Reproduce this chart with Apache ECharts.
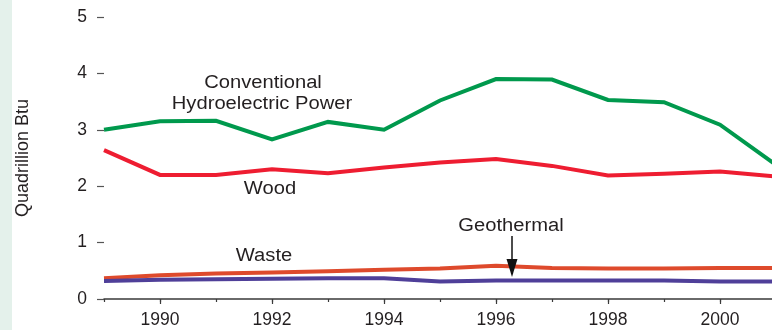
<!DOCTYPE html>
<html><head><meta charset="utf-8">
<script src="https://cdn.jsdelivr.net/npm/echarts@6/dist/echarts.min.js"></script>
<style>html,body{margin:0;padding:0;overflow:hidden;background:#fff;width:772px;height:330px}#c{width:800px;height:330px}</style>
</head><body><div id="c"></div><script>
const years = ['1989','1990','1991','1992','1993','1994','1995','1996','1997','1998','1999','2000','2001'];
const hydro = [3.00,3.15,3.16,2.83,3.14,3.00,3.52,3.90,3.89,3.53,3.49,3.09,2.38];
const wood  = [2.64,2.20,2.20,2.30,2.23,2.33,2.42,2.48,2.36,2.19,2.22,2.26,2.17];
const waste = [0.37,0.42,0.45,0.47,0.49,0.52,0.54,0.59,0.55,0.54,0.54,0.55,0.55];
const geo   = [0.32,0.34,0.35,0.36,0.37,0.37,0.31,0.33,0.33,0.33,0.33,0.31,0.31];
const yMin = 0, yMax = 5, yStep = 1;
const yName = 'Quadrillion Btu';

const FONT = '"Liberation Sans", Arial, sans-serif';
const TXT = '#231f20';
const chart = echarts.init(document.getElementById('c'), null, {renderer:'canvas'});
const mk = (name, data, color, z) => ({
  name, type:'line', data, showSymbol:false, symbol:'none', z,
  lineStyle:{width:4, color, cap:'butt', join:'miter'}, itemStyle:{color}, animation:false
});
const note = (text, x, y) => ({
  type:'text', x, y, scaleX:1.12, scaleY:1, z:20,
  style:{text, x:0, y:0, textAlign:'center', textVerticalAlign:'middle', font:'18px '+FONT, fill:TXT}
});
chart.setOption({
  animation:false,
  backgroundColor:'#fff',
  grid:{left:104, right:24, top:17, bottom:31, containLabel:false},
  xAxis:[{
    type:'category', data:years, boundaryGap:false,
    axisLine:{show:true, lineStyle:{color:'#3a3a3a', width:1.5}},
    axisTick:{show:true, length:5, interval:(i)=>i%2===1, lineStyle:{color:'#3a3a3a', width:1.2}},
    axisLabel:{interval:(i)=>i%2===1, fontSize:17.5, fontFamily:FONT, color:TXT, margin:12},
    splitLine:{show:false}
  },{
    type:'category', data:years, boundaryGap:false, position:'bottom',
    axisLine:{show:false},
    axisTick:{show:true, length:3, interval:0, lineStyle:{color:'#3a3a3a', width:1.2}},
    axisLabel:{show:false}, splitLine:{show:false}
  }],
  yAxis:{
    type:'value', min:yMin, max:yMax, interval:yStep,
    name:yName, nameLocation:'middle', nameGap:72, nameRotate:90,
    nameTextStyle:{fontSize:18, fontFamily:FONT, color:TXT},
    axisLine:{show:false},
    axisTick:{show:true, length:7, lineStyle:{color:'#555', width:1.2}},
    axisLabel:{fontSize:17.5, fontFamily:FONT, color:TXT, margin:17},
    splitLine:{show:false}
  },
  series:[
    mk('Conventional Hydroelectric Power', hydro, '#00994d', 3),
    mk('Wood', wood, '#ee1d31', 3),
    mk('Waste', waste, '#de4a2c', 3),
    mk('Geothermal', geo, '#4f3f99', 3)
  ],
  graphic:[
    {type:'rect', z:-1, shape:{x:0,y:0,width:12,height:330}, style:{fill:'#e4f1eb'}},
    note('Conventional', 263, 83),
    note('Hydroelectric Power', 262, 104),
    note('Wood', 270, 189),
    note('Waste', 264, 256),
    note('Geothermal', 511, 226),
    {type:'line', z:10, shape:{x1:512,y1:236,x2:512,y2:262}, style:{stroke:'#111', lineWidth:1.5}},
    {type:'polygon', z:10, shape:{points:[[506.5,259],[517.5,259],[512,277]]}, style:{fill:'#111'}}
  ]
});
</script></body></html>
